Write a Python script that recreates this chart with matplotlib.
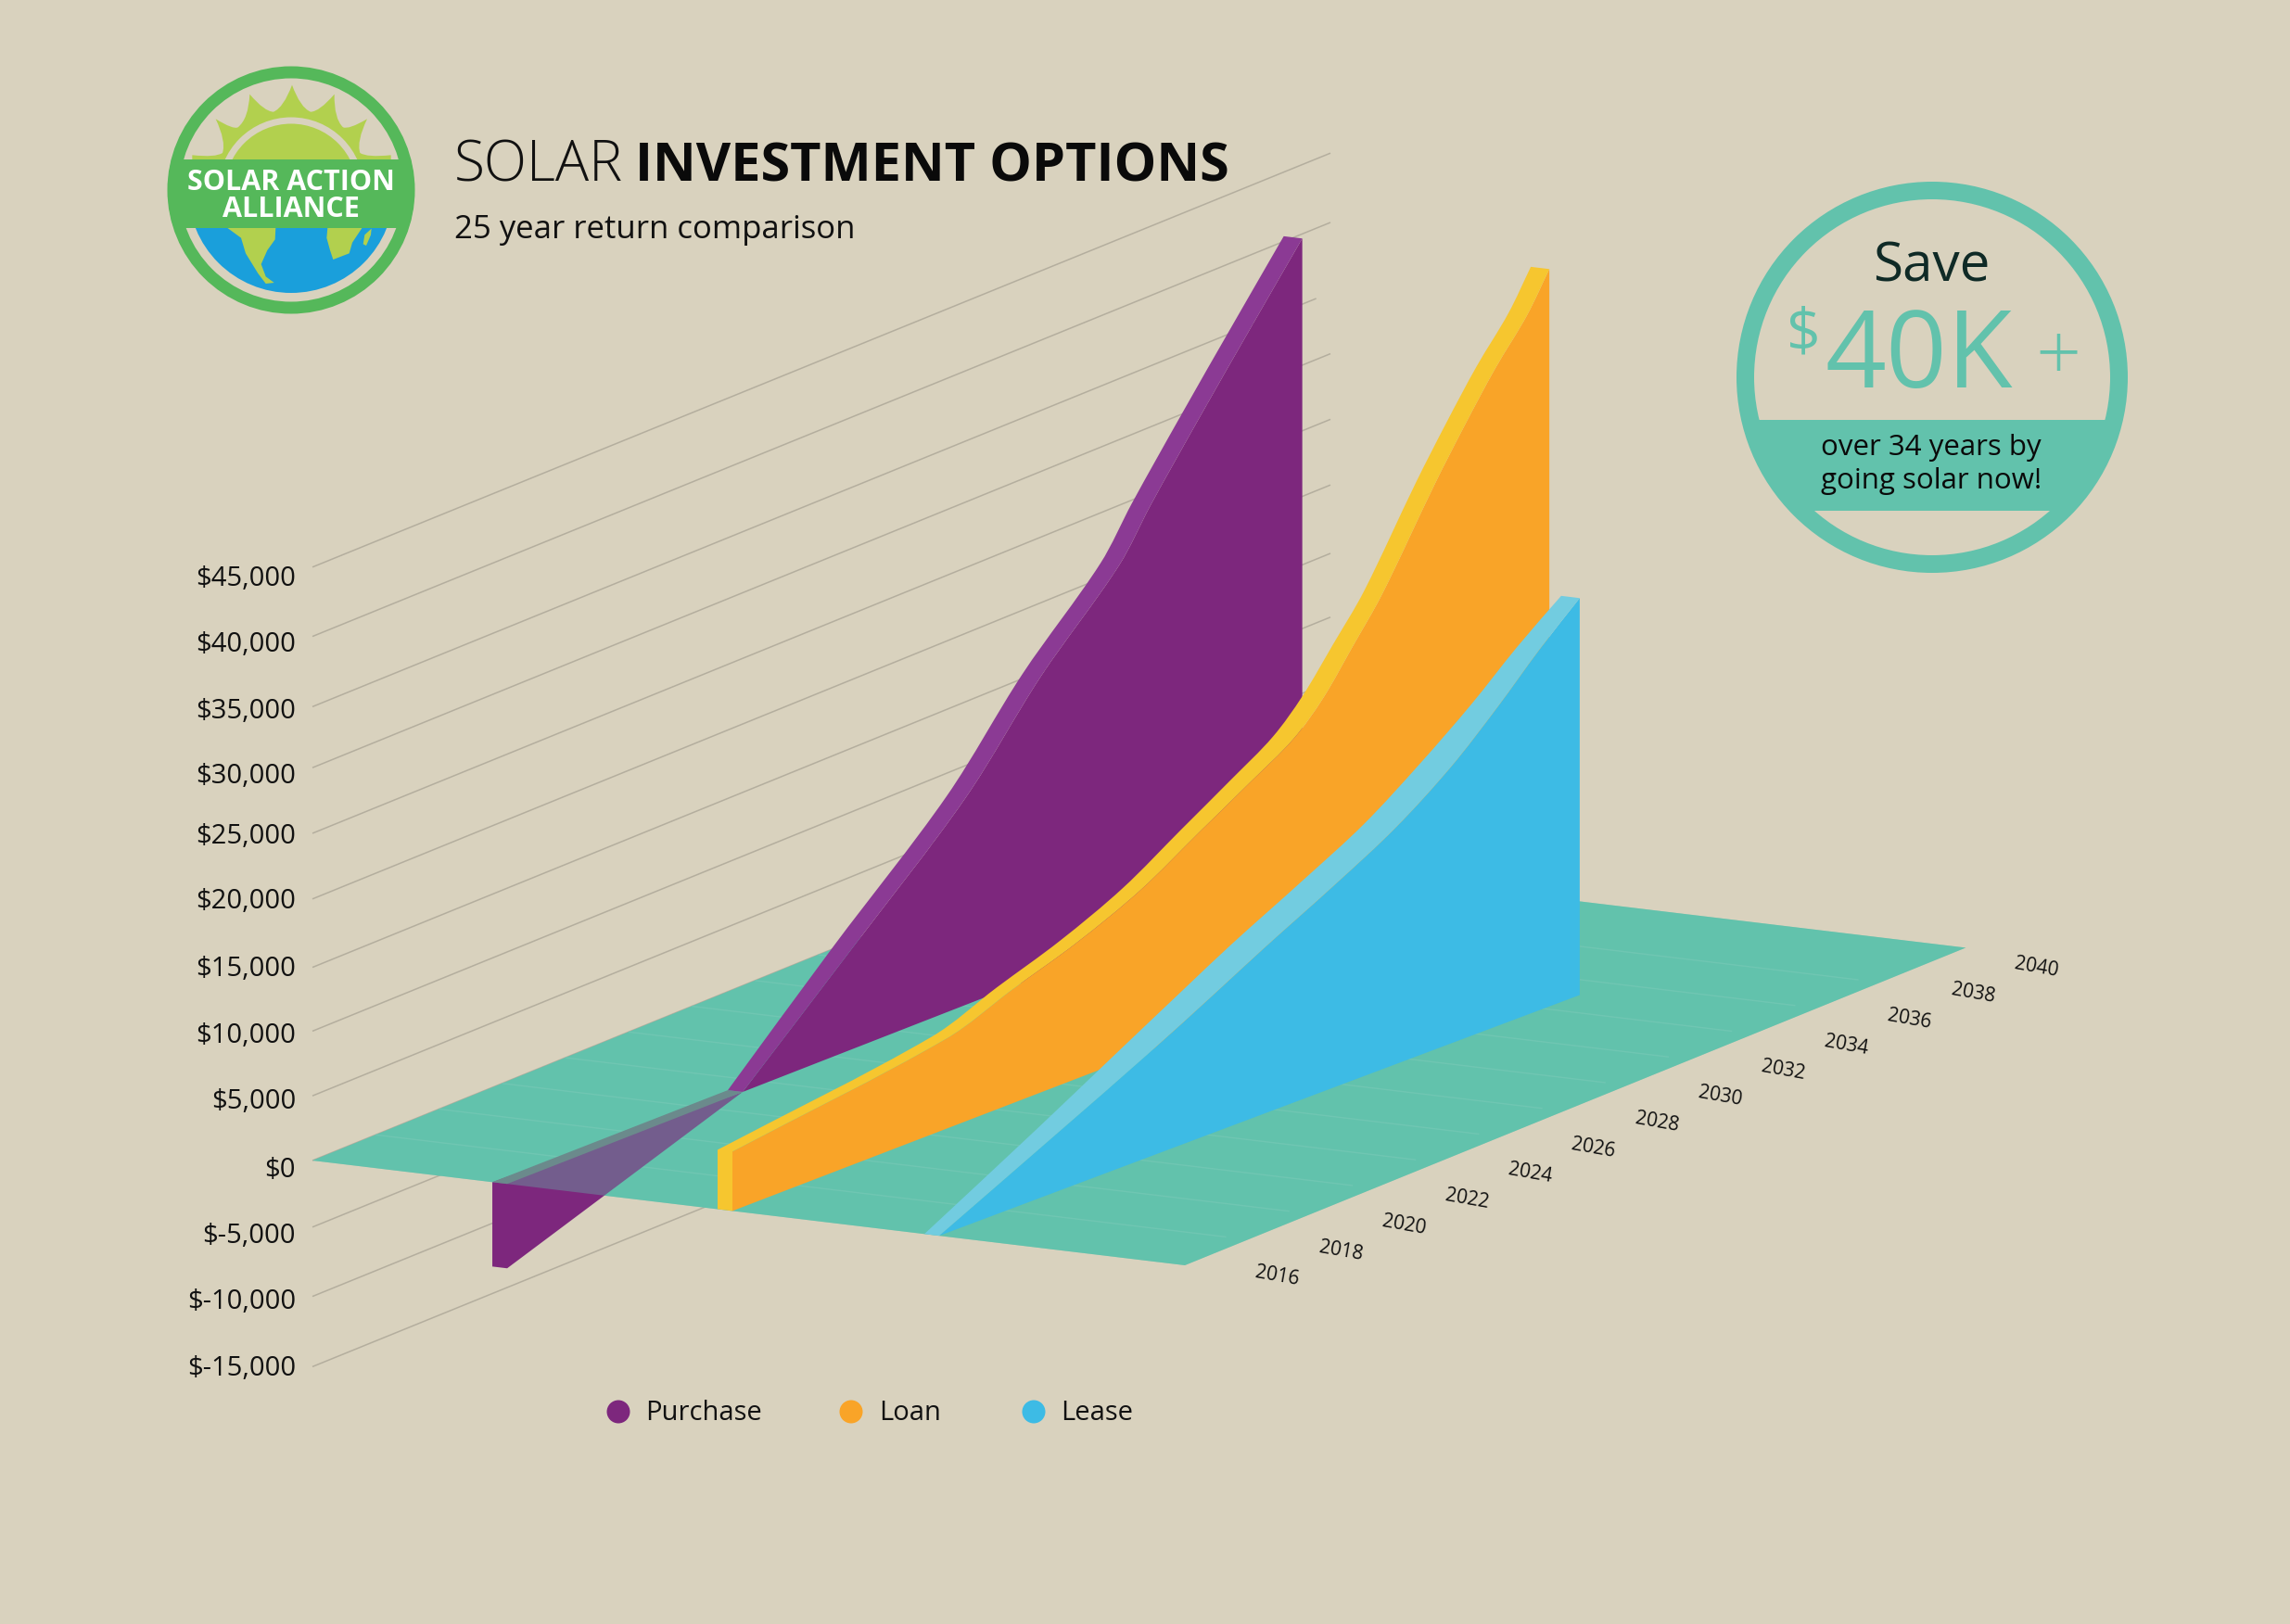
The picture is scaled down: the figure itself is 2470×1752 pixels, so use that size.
import numpy as np
import matplotlib
matplotlib.use('Agg')
import matplotlib.pyplot as plt
from matplotlib.patches import Circle, PathPatch, Rectangle
from matplotlib.path import Path

plt.rcParams['font.family'] = ['Open Sans', 'DejaVu Sans']

# Data
purchase_years = [2016, 2023.45, 2026.91, 2030.49, 2032.89, 2035.35, 2036.35, 2037.9, 2039.58, 2041.15]
purchase_values = [-6340, 0, 7570, 15530, 22490, 28500, 32100, 37260, 42690, 47700]
loan_years = [2016, 2022.77, 2024.86, 2026.88, 2028.9, 2030.78, 2032.39, 2033.74, 2034.68, 2035.62, 2036.56,
              2038.2, 2039.17, 2040.13, 2041.13, 2041.84]
loan_values = [4460, 6770, 8560, 10200, 12310, 14990, 17270, 19250, 21460, 24500, 27610,
               34260, 37900, 41270, 44330, 47170]
lease_years = [2016, 2019.78, 2022.6, 2024.77, 2026.26, 2028.55, 2030.43, 2032.19, 2033.65, 2035, 2036.26]
lease_values = [0, 4420, 7760, 10490, 12420, 15250, 17760, 20780, 23930, 27120, 29820]

value_ticks = [45000, 40000, 35000, 30000, 25000, 20000, 15000, 10000, 5000, 0, -5000, -10000, -15000]
value_labels = ['$45,000', '$40,000', '$35,000', '$30,000', '$25,000', '$20,000', '$15,000',
                '$10,000', '$5,000', '$0', '$-5,000', '$-10,000', '$-15,000']
year_ticks = list(range(2016, 2041, 2))
legend_names = ['Purchase', 'Loan', 'Lease']

# the wall lines and labels in the original are not quite evenly spaced
grid_nudge = [6, 9, 13, 7, 6, 5, 7, 4, 2, 0, 0, 3, 7]
label_nudge = [4, 4, 5, 3, -3, -4, -3, -2, -2, 0, 0, 0, 1]
wall_end = [2048.2, 2048.2, 2047.75] + [2048.2] * 10

# width of the lighter side of each ribbon, canvas pixels
purchase_side = [16] + [20] * 8
loan_side = [16, 16, 17, 18, 19, 20, 21, 22, 22, 21, 20, 20, 20, 20, 20, 20]
lease_side = [16, 24, 31, 34, 35, 35, 34, 33, 28, 24, 20]

BG = '#D9D2BE'
FLOOR = '#62C2AC'
FLOOR_LINE = '#76C9B6'
WALL_LINE = '#B4AE9E'
PURPLE, PURPLE_LIGHT = '#7D277D', '#8B3A94'
ORANGE, YELLOW = '#F9A428', '#F6C62F'
BLUE, BLUE_LIGHT = '#3DBBE5', '#72CCE0'
BADGE_INK = '#0F2A26'

# oblique projection, pixels of the 2470x1752 canvas
X0, Y0 = 337, 1252
DEPTH_DX, DEPTH_DY = 941, 113
YEAR_DX, YEAR_RISE = 34.1, 13.87
PX_PER_DOLLAR = 71.8 / 5000
FLOOR_END = 2040.7
THICK = 0.017


def project(year, value, depth, rise=YEAR_RISE):
    year = np.asarray(year, dtype=float)
    value = np.asarray(value, dtype=float)
    x = X0 + DEPTH_DX * depth + YEAR_DX * (year - 2016)
    y = Y0 + DEPTH_DY * depth - rise * (year - 2016) - value * PX_PER_DOLLAR
    return x, y


def poly(xs, ys, color, z, alpha=None):
    ax.fill(xs, ys, color=color, lw=0, zorder=z, alpha=alpha)


def bezier(px, py):
    # bezier segments through the read points, no MOVETO
    p = np.c_[px, py]
    tang = np.gradient(p, axis=0)
    tang /= np.linalg.norm(tang, axis=1, keepdims=True)
    verts = []
    for i in range(len(p) - 1):
        step = np.linalg.norm(p[i + 1] - p[i]) / 3
        verts += [p[i] + tang[i] * step, p[i + 1] - tang[i + 1] * step, p[i + 1]]
    return verts, [Path.CURVE4] * len(verts)


def ribbon(years, values, side, depth, rise, face, strip, z):
    fx, fy = project(years, values, depth, rise)
    bx, by = project(years, values, depth - np.array(side) / DEPTH_DX, rise)
    end_x, end_y = project(years[-1], 0, depth, rise)
    sx0, sy0 = project(years[0], 0, depth, rise)
    bx0, by0 = project(years[0], 0, depth - side[0] / DEPTH_DX, rise)

    v, c = bezier(fx, fy)
    verts = [(fx[0], fy[0])] + v + [(end_x, end_y), (sx0, sy0), (fx[0], fy[0])]
    codes = [Path.MOVETO] + c + [Path.LINETO, Path.LINETO, Path.CLOSEPOLY]
    ax.add_patch(PathPatch(Path(verts, codes), color=face, lw=0, zorder=z))

    # lighter top side of the ribbon, closed down to the floor at its start
    back_v, back_c = bezier(bx, by)
    front_v, front_c = bezier(fx[::-1], fy[::-1])
    verts = [(bx0, by0), (bx[0], by[0])] + back_v + [(fx[-1], fy[-1])] + front_v + [(sx0, sy0), (bx0, by0)]
    codes = [Path.MOVETO, Path.LINETO] + back_c + [Path.LINETO] + front_c + [Path.LINETO, Path.CLOSEPOLY]
    ax.add_patch(PathPatch(Path(verts, codes), color=strip, lw=0, zorder=z + 0.1))


fig = plt.figure(figsize=(24.7, 17.52), dpi=100, facecolor=BG)
ax = fig.add_axes([0, 0, 1, 1])
ax.set_xlim(0, 2470)
ax.set_ylim(1752, 0)
ax.axis('off')

# wall lines
for v, nudge, end in zip(value_ticks, grid_nudge, wall_end):
    x, y = project([2016, end], [v, v], 0)
    ax.plot(x, y + nudge, color=WALL_LINE, lw=1.1, zorder=1, solid_capstyle='butt')

# value labels
for v, lab, nudge in zip(value_ticks, value_labels, label_nudge):
    ax.text(319, 1262 - v * 71.3 / 5000 + nudge, lab, ha='right', va='center', fontsize=21, color='#111111')

# floor
floor_x, floor_y = project([2016, 2016, FLOOR_END, FLOOR_END], [0, 0, 0, 0], np.array([0, 1, 1, 0]))
poly(floor_x, floor_y, FLOOR, 2)

# purchase below zero sits under the floor and shows through it
d_purchase, rise_purchase = 0.2232, 13.32
bot_x, bot_y = project(purchase_years[0], purchase_values[0], d_purchase - THICK, rise_purchase)
low_x, low_y = project(purchase_years[:2], purchase_values[:2], d_purchase, rise_purchase)
back_x, back_y = project(purchase_years[0], 0, d_purchase - THICK, rise_purchase)
poly(np.r_[back_x, bot_x, low_x], np.r_[back_y, bot_y, low_y], PURPLE, 3)
poly(floor_x, floor_y, FLOOR, 3.1, alpha=0.35)
edge_x, edge_y = project(purchase_years[:2], [0, 0], d_purchase - THICK, rise_purchase)
zero_x, zero_y = project(purchase_years[:2], [0, 0], d_purchase, rise_purchase)
poly(np.r_[edge_x, zero_x[::-1]], np.r_[edge_y, zero_y[::-1]], '#6B8A8C', 3.2)

# floor grid, every two years
for yr in year_ticks[1:-1]:
    x, y = project([yr, yr], [0, 0], np.array([0, 0.975]))
    ax.plot(x, y, color=FLOOR_LINE, lw=1.1, zorder=2.5, solid_capstyle='butt')

for yr, lab_x, lab_y in zip(year_ticks, *project(year_ticks, [0] * len(year_ticks), 1.106)):
    ax.text(lab_x, lab_y, str(yr), ha='center', va='center', fontsize=15, rotation=-10,
            rotation_mode='anchor', color='#111111')

# the ribbons, back to front
ribbon(purchase_years[1:], purchase_values[1:], purchase_side, d_purchase, rise_purchase, PURPLE, PURPLE_LIGHT, 4)
ribbon(loan_years, loan_values, loan_side, 0.4814, 13.11, ORANGE, YELLOW, 5)
ribbon(lease_years, lease_values, lease_side, 0.7184, 12.82, BLUE, BLUE_LIGHT, 6)

# legend
for name, color, cx, tx in zip(legend_names, [PURPLE, ORANGE, BLUE], [667, 918, 1115], [696, 948, 1144]):
    ax.add_patch(Circle((cx, 1523), 12.5, color=color, lw=0, zorder=7))
    ax.text(tx, 1524, name, ha='left', va='center', fontsize=21, color='#111111')

# title
ax.text(490, 195, 'SOLAR', fontsize=43.5, fontweight='light', color='#111111', va='baseline')
ax.text(685, 195, 'INVESTMENT OPTIONS', fontsize=41.5, fontweight='bold', color='#0A0A0A', va='baseline')
ax.text(490, 257, '25 year return comparison', fontsize=25, color='#111111', va='baseline')

# savings badge
bc = (2084, 407)
ax.add_patch(Circle(bc, 201.5, fill=False, ec=FLOOR, lw=19 * 0.72, zorder=7))
band = Rectangle((1860, 453), 450, 98, color=FLOOR, lw=0, zorder=7)
ax.add_patch(band)
band.set_clip_path(Circle(bc, 205, transform=ax.transData))
ax.text(2083, 303, 'Save', ha='center', va='baseline', fontsize=42, color=BADGE_INK, zorder=8)
ax.text(2070, 418, '40K', ha='center', va='baseline', fontsize=83, color=FLOOR, zorder=8)
ax.text(1945, 378, '$', ha='center', va='baseline', fontsize=46, color=FLOOR, zorder=8)
ax.text(2220, 378, '+', ha='center', va='center_baseline', fontsize=62, fontweight='light', color=FLOOR, zorder=8)
ax.text(2083, 491, 'over 34 years by', ha='center', va='baseline', fontsize=22.5, color='#0A0A0A', zorder=8)
ax.text(2083, 527, 'going solar now!', ha='center', va='baseline', fontsize=22.5, color='#0A0A0A', zorder=8)


# logo, traced in zoomed pixels around its centre
def lz(pts):
    pts = np.array(pts, dtype=float)
    return 150 + pts[:, 0] / 3, 50 + pts[:, 1] / 3


lc = (314, 205)
LIME = '#B2D04E'
LOGO_GREEN = '#55B85A'
tips = [(172, 352), (248, 235), (358, 155), (495, 125), (632, 155), (738, 235), (815, 352)]
valleys = [(270, 345), (320, 262), (435, 212), (555, 212), (660, 262), (715, 345)]
verts, codes = [tips[0]], [Path.MOVETO]
for i, v in enumerate(valleys):
    for a, b in ((tips[i], v), (v, tips[i + 1])):
        # rays are slightly concave
        ctrl = ((a[0] + b[0]) / 2 + (492 - (a[0] + b[0]) / 2) * 0.1, (a[1] + b[1]) / 2 + (465 - (a[1] + b[1]) / 2) * 0.1)
        verts += [ctrl, b]
        codes += [Path.CURVE3, Path.CURVE3]
verts += [(815, 370), (172, 370), tips[0]]
codes += [Path.LINETO, Path.LINETO, Path.CLOSEPOLY]
vx, vy = lz(verts)
ax.add_patch(PathPatch(Path(np.c_[vx, vy], codes), color=LIME, lw=0, zorder=2))
sun_clip = Rectangle((150, 40), 340, 135, transform=ax.transData)
for r, color, z in ((78.5, BG, 2.1), (71.5, LIME, 2.2)):
    ax.add_patch(Circle(lc, r, color=color, lw=0, zorder=z)).set_clip_path(sun_clip)
ax.add_patch(Circle(lc, 111, color='#1A9FDB', lw=0, zorder=2)).set_clip_path(
    Rectangle((150, 240), 340, 120, transform=ax.transData))
for shape in (
    [(285, 587), (330, 620), (345, 670), (385, 735), (410, 768), (437, 765), (410, 745), (395, 705), (415, 660), (440, 625), (442, 587)],
    [(610, 587), (722, 587), (690, 635), (680, 670), (628, 690), (618, 660), (607, 620)],
    [(725, 640), (730, 610), (752, 590), (750, 610), (735, 645)],
):
    sx, sy = lz(shape)
    poly(sx, sy, LIME, 2.3)
logo_band = Rectangle((170, 172), 290, 74, color=LOGO_GREEN, lw=0, zorder=3)
ax.add_patch(logo_band)
logo_band.set_clip_path(Circle(lc, 133, transform=ax.transData))
ax.add_patch(Circle(lc, 127, fill=False, ec=LOGO_GREEN, lw=13 * 0.72, zorder=3))
ax.text(314, 205, 'SOLAR ACTION', ha='center', va='baseline', fontsize=22, fontweight='bold', color='white', zorder=4)
ax.text(314, 234, 'ALLIANCE', ha='center', va='baseline', fontsize=22, fontweight='bold', color='white', zorder=4)

fig.savefig('out.png', dpi=100, facecolor=BG)
